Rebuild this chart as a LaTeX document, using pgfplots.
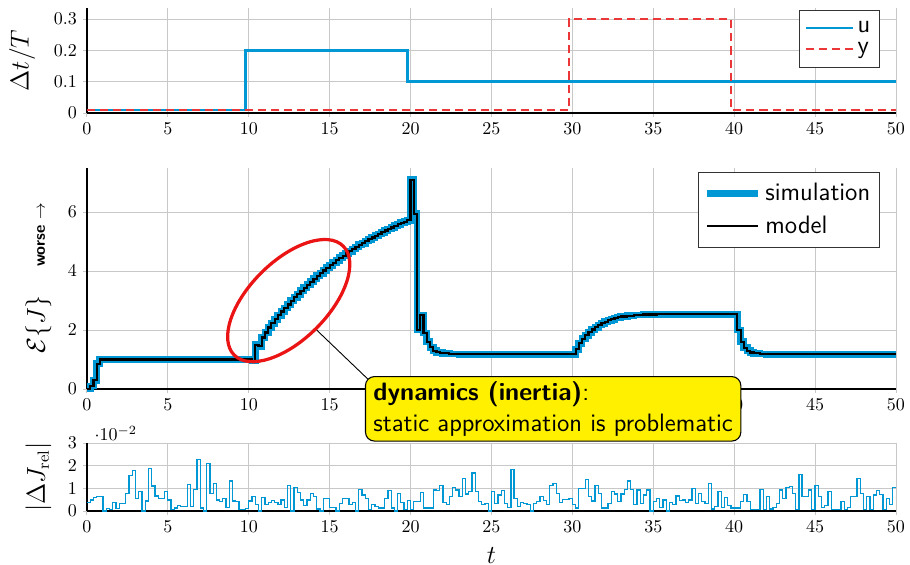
\documentclass[border=0pt]{standalone}
\usepackage{pgfplots}
\pgfplotsset{compat=1.18}
\usepackage{pgfplotstable}
\usetikzlibrary{shapes.geometric}
\definecolor{mblue}{RGB}{0,152,212}
\definecolor{mred}{RGB}{235,55,55}
\definecolor{myellow}{RGB}{255,240,0}
\definecolor{gridgray}{RGB}{200,200,200}
\newcommand{\lbl}{\fontsize{13.4}{16}\selectfont}
\newcommand{\sflbl}{\fontsize{14}{17}\selectfont\sffamily}

\pgfplotstableread{
t J
0 0.0
0.2 0.1
0.4 0.3
0.6 0.86
0.8 1.0
10.2 0.95
10.4 1.50
10.6 1.45
10.8 1.75
11.0 1.92
11.2 2.09
11.4 2.23
11.6 2.37
11.8 2.50
12.0 2.63
12.2 2.75
12.4 2.87
12.6 2.99
12.8 3.11
13.0 3.22
13.2 3.33
13.4 3.44
13.6 3.54
13.8 3.64
14.0 3.74
14.2 3.84
14.4 3.93
14.6 4.02
14.8 4.11
15.0 4.20
15.2 4.28
15.4 4.37
15.6 4.45
15.8 4.52
16.0 4.60
16.2 4.67
16.4 4.75
16.6 4.82
16.8 4.89
17.0 4.95
17.2 5.02
17.4 5.08
17.6 5.14
17.8 5.20
18.0 5.26
18.2 5.32
18.4 5.38
18.6 5.43
18.8 5.48
19.0 5.54
19.2 5.59
19.4 5.64
19.6 5.68
19.8 5.73
20.0 7.10
20.2 5.95
20.4 2.00
20.6 2.50
20.8 1.90
21.0 1.60
21.2 1.42
21.4 1.30
21.6 1.25
21.8 1.23
22.0 1.21
22.4 1.19
23.0 1.18
30.2 1.35
30.4 1.55
30.6 1.70
30.8 1.82
31.0 1.93
31.2 2.02
31.4 2.10
31.6 2.17
31.8 2.23
32.0 2.28
32.2 2.33
32.4 2.37
32.6 2.41
32.8 2.44
33.0 2.46
33.4 2.49
33.8 2.51
34.4 2.53
35.2 2.54
40.2 2.00
40.4 1.60
40.6 1.40
40.8 1.30
41.0 1.24
41.2 1.21
41.6 1.19
42.0 1.18
50.0 1.18
}\modeldata

\pgfplotstableread{
t v
0.0 0.39
0.2 0.49
0.4 0.59
0.6 0.64
0.8 0.64
1.0 0.0
1.2 0.12
1.4 0.06
1.6 0.39
1.8 0.1
2.0 0.35
2.2 0.32
2.4 0.78
2.6 1.58
2.8 1.8
3.0 0.57
3.2 0.85
3.4 0.0
3.6 0.45
3.8 1.87
4.0 1.1
4.2 0.67
4.4 0.54
4.6 0.54
4.8 0.85
5.0 0.49
5.2 0.06
5.4 0.13
5.6 0.25
5.8 0.2
6.0 0.2
6.2 1.17
6.4 0.2
6.6 0.96
6.8 2.26
7.0 0.13
7.2 0.0
7.4 2.09
7.6 0.78
7.8 1.22
8.0 0.49
8.2 0.42
8.4 0.54
8.6 0.17
8.8 1.33
9.0 0.45
9.2 0.41
9.4 0.06
9.6 0.06
9.8 0.1
10.0 0.45
10.2 0.64
10.4 0.28
10.6 0.0
10.8 0.59
11.0 0.28
11.2 0.39
11.4 0.46
11.6 0.39
11.8 0.28
12.0 0.49
12.2 0.17
12.4 1.13
12.6 0.0
12.8 1.03
13.0 0.81
13.2 0.49
13.4 0.23
13.6 0.49
13.8 0.78
14.0 0.64
14.2 0.09
14.4 0.0
14.6 0.54
14.8 0.54
15.0 0.17
15.2 0.17
15.4 0.0
15.6 0.35
15.8 0.54
16.0 0.54
16.2 0.28
16.4 0.39
16.6 0.0
16.8 0.96
17.0 0.71
17.2 0.54
17.4 0.06
17.6 0.3
17.8 0.2
18.0 0.13
18.2 0.13
18.4 0.57
18.6 0.9
18.8 0.13
19.0 0.0
19.2 0.78
19.4 0.38
19.6 0.06
19.8 0.46
20.0 0.06
20.2 0.42
20.4 0.42
20.6 0.81
20.8 0.13
21.0 0.13
21.2 0.13
21.4 0.93
21.6 0.9
21.8 1.14
22.0 0.38
22.2 0.28
22.4 0.64
22.6 1.04
22.8 0.93
23.0 0.64
23.2 1.43
23.4 0.75
23.6 0.85
23.8 1.68
24.0 0.85
24.2 0.42
24.4 0.28
24.6 0.32
24.8 0.0
25.0 0.85
25.2 0.35
25.4 0.71
25.6 0.9
25.8 0.35
26.0 0.17
26.2 1.83
26.4 0.57
26.6 0.2
26.8 0.39
27.0 0.35
27.2 0.3
27.4 0.0
27.6 0.35
27.8 0.42
28.0 0.64
28.2 0.46
28.4 0.28
28.6 1.14
28.8 1.22
29.0 0.78
29.2 0.38
29.4 0.52
29.6 0.52
29.8 0.57
30.0 0.28
30.2 0.13
30.4 1.0
30.6 1.0
30.8 1.39
31.0 0.64
31.2 0.45
31.4 1.14
31.6 0.78
31.8 0.13
32.0 0.13
32.2 0.35
32.4 0.85
32.6 0.75
32.8 0.42
33.0 0.75
33.2 0.96
33.4 1.33
33.6 0.96
33.8 0.28
34.0 0.93
34.2 0.32
34.4 0.71
34.6 0.93
34.8 0.0
35.0 0.42
35.2 0.57
35.4 0.17
35.6 0.49
35.8 0.0
36.0 0.39
36.2 0.28
36.4 0.67
36.6 0.46
36.8 0.49
37.0 0.39
37.2 0.49
37.4 1.01
37.6 0.32
37.8 0.78
38.0 0.42
38.2 0.35
38.4 1.22
38.6 0.09
38.8 0.2
39.0 0.85
39.2 0.17
39.4 0.59
39.6 0.23
39.8 0.13
40.0 0.13
40.2 0.13
40.4 0.42
40.6 0.74
40.8 0.42
41.0 0.06
41.2 0.06
41.4 0.06
41.6 0.96
41.8 0.06
42.0 0.64
42.2 0.09
42.4 0.17
42.6 0.32
42.8 0.93
43.0 0.57
43.2 1.04
43.4 1.07
43.6 0.78
43.8 0.06
44.0 1.62
44.2 0.64
44.4 0.64
44.6 0.93
44.8 0.06
45.0 1.14
45.2 0.64
45.4 0.17
45.6 0.23
45.8 0.85
46.0 0.06
46.2 0.06
46.4 0.06
46.6 0.42
46.8 0.06
47.0 0.17
47.2 0.64
47.4 0.64
47.6 1.43
47.8 0.78
48.0 0.06
48.2 0.64
48.4 0.06
48.6 0.71
48.8 0.9
49.0 0.74
49.2 0.06
49.4 0.54
49.6 0.28
49.8 1.04
50.0 1.04
}\errdata

\pgfplotsset{
  myaxis/.style={
    scale only axis, width=449.4pt,
    xmin=0, xmax=50, xtick={0,5,...,50},
    axis x line*=bottom, axis y line*=left,
    grid=major, grid style={gridgray, line width=0.5pt},
    tick style={gridgray, line width=0.5pt}, tick align=center, major tick length=4pt,
    axis line style={black, line width=0.7pt},
    ylabel style={font=\lbl, anchor=center},
    legend style={font=\sflbl, draw=black!80, line width=0.6pt, fill=white},
    legend cell align=left,
  }
}

\begin{document}
\begin{tikzpicture}
% top axis
\begin{axis}[myaxis, at={(0pt,221.1pt)}, anchor=south west, height=58.3pt,
  ymin=0, ymax=0.335, ytick={0,0.1,0.2,0.3},
  ylabel={$\Delta t/T$}, ylabel style={at={(axis description cs:-0.080,0.5)}},
  legend style={at={(rel axis cs:0.98,0.981)}, anchor=north east, inner xsep=3pt, inner ysep=4pt},
  legend image code/.code={\draw[#1, line width=1.1pt] (0cm,0cm) -- (0.92cm,0cm);},
]
\addplot[const plot, mblue, line width=1.5pt] coordinates {(0,0.01) (9.8,0.2) (19.8,0.1) (50,0.1)};
\addlegendentry{u\hspace{4pt}}
\addplot[const plot, mred, line width=1.4pt, dash pattern=on 4.5pt off 2.8pt] coordinates {(0,0.01) (29.8,0.3) (39.8,0.01) (50,0.01)};
\addlegendentry{y\hspace{4pt}}
\end{axis}

% middle axis
\begin{axis}[myaxis, at={(0pt,67.8pt)}, anchor=south west, height=122.8pt,
  ymin=0, ymax=7.5, ytick={0,2,4,6},
  ylabel={$\mathcal{E}\{J\}$\hspace{16pt}{\fontsize{9}{10}\selectfont\sffamily\bfseries worse $\rightarrow$}},
  ylabel style={at={(axis description cs:-0.060,0.5)}},
  legend style={at={(rel axis cs:0.98,0.982)}, anchor=north east, inner xsep=3pt, inner ysep=4pt, row sep=3pt},
  legend image code/.code={\draw[#1] (0cm,0cm) -- (1cm,0cm);},
  clip=false,
]
\addplot[const plot, mblue, line width=3.8pt] table[x=t, y=J] {\modeldata};
\addlegendentry{simulation}
\addplot[const plot, black, line width=1.2pt] table[x=t, y=J] {\modeldata};
\addlegendentry{model}
\node[draw={rgb,255:red,235;green,20;blue,20}, line width=1.8pt, ellipse, rotate=45,
      minimum width=85.6pt, minimum height=43.4pt, inner sep=0pt] at (axis cs:12.47,3.0) {};
\coordinate (lineStart) at (axis cs:14.2,2.0);
\coordinate (annNW) at (axis cs:17.18,0.44);
\end{axis}

% bottom axis
\begin{axis}[myaxis, at={(0pt,0pt)}, anchor=south west, height=37.8pt,
  ymin=0, ymax=0.03, ytick={0,0.01,0.02,0.03},
  ylabel={$|\Delta J_{\mathrm{rel}}|$}, ylabel style={at={(axis description cs:-0.060,0.5)}},
  xlabel={$t$}, xlabel style={font=\lbl, at={(rel axis cs:0.5,0)}, anchor=center, yshift=-24.5pt, inner sep=1pt},
  every y tick scale label/.style={at={(rel axis cs:0,1)}, anchor=south west, inner sep=0pt, xshift=4pt, yshift=1pt},
]
\addplot[const plot, mblue, line width=0.7pt] table[x=t, y expr=\thisrow{v}*0.01] {\errdata};
\end{axis}

% annotation
\draw[black, line width=0.5pt] (lineStart) -- ([xshift=3pt,yshift=-3pt]annNW);
\node[anchor=north west, fill=myellow, draw=black, line width=0.6pt, rounded corners=5pt,
      inner xsep=4.4pt, inner ysep=2.8pt, align=left, font=\sflbl] at (annNW)
  {{\bfseries dynamics (inertia)}:\\static approximation is problematic};

\pgfresetboundingbox
\path[use as bounding box] (-48.3pt,-29.4pt) rectangle (457.2pt,283.9pt);
\end{tikzpicture}
\end{document}
